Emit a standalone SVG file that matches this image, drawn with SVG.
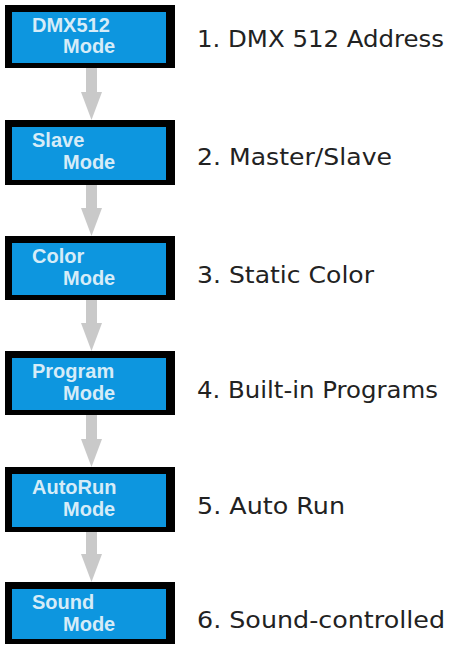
<svg xmlns="http://www.w3.org/2000/svg" width="449" height="648" viewBox="0 0 449 648">
<style>
.outer{fill:#000}
.inner{fill:#0d96df}
.nt{font-family:"Liberation Sans",Arial,sans-serif;font-weight:bold;font-size:20px;fill:#d6ecf8}
.lbl{font-family:"DejaVu Sans","Open Sans",sans-serif;font-size:23px;fill:#222}
.arr{fill:#c9c9c9}
</style>
<rect width="449" height="648" fill="#fff"/>
<g id="connectors">
<polygon class="arr" points="86,67 97,67 97,92 102,92 91.5,120 81,92 86,92"/>
<polygon class="arr" points="86,185 97,185 97,208 102,208 91.5,236 81,208 86,208"/>
<polygon class="arr" points="86,300 97,300 97,323 102,323 91.5,351 81,323 86,323"/>
<polygon class="arr" points="86,415 97,415 97,439 102,439 91.5,467 81,439 86,439"/>
<polygon class="arr" points="86,532 97,532 97,554 102,554 91.5,582 81,554 86,554"/>
</g>
<g id="node1">
<rect class="outer" x="5" y="5" width="170" height="63"/>
<rect class="inner" x="12" y="12" width="154" height="51"/>
<text class="nt" x="32" y="32">DMX512</text>
<text class="nt" x="63" y="53">Mode</text>
<text class="lbl" x="197" y="47" textLength="247" lengthAdjust="spacingAndGlyphs">1. DMX 512 Address</text>
</g>
<g id="node2">
<rect class="outer" x="5" y="120" width="170" height="65"/>
<rect class="inner" x="12" y="127" width="154" height="53"/>
<text class="nt" x="32" y="147">Slave</text>
<text class="nt" x="63" y="169">Mode</text>
<text class="lbl" x="197" y="165" textLength="195" lengthAdjust="spacingAndGlyphs">2. Master/Slave</text>
</g>
<g id="node3">
<rect class="outer" x="5" y="236" width="170" height="64"/>
<rect class="inner" x="12" y="243" width="154" height="52"/>
<text class="nt" x="32" y="263">Color</text>
<text class="nt" x="63" y="285">Mode</text>
<text class="lbl" x="197" y="283" textLength="177" lengthAdjust="spacingAndGlyphs">3. Static Color</text>
</g>
<g id="node4">
<rect class="outer" x="5" y="351" width="170" height="64"/>
<rect class="inner" x="12" y="358" width="154" height="52"/>
<text class="nt" x="32" y="378">Program</text>
<text class="nt" x="63" y="400">Mode</text>
<text class="lbl" x="197" y="398" textLength="241" lengthAdjust="spacingAndGlyphs">4. Built-in Programs</text>
</g>
<g id="node5">
<rect class="outer" x="5" y="467" width="170" height="65"/>
<rect class="inner" x="12" y="474" width="154" height="53"/>
<text class="nt" x="32" y="494">AutoRun</text>
<text class="nt" x="63" y="516">Mode</text>
<text class="lbl" x="197" y="514" textLength="148" lengthAdjust="spacingAndGlyphs">5. Auto Run</text>
</g>
<g id="node6">
<rect class="outer" x="5" y="582" width="170" height="62"/>
<rect class="inner" x="12" y="589" width="154" height="50"/>
<text class="nt" x="32" y="609">Sound</text>
<text class="nt" x="63" y="631">Mode</text>
<text class="lbl" x="197" y="628" textLength="248" lengthAdjust="spacingAndGlyphs">6. Sound-controlled</text>
</g>
</svg>
